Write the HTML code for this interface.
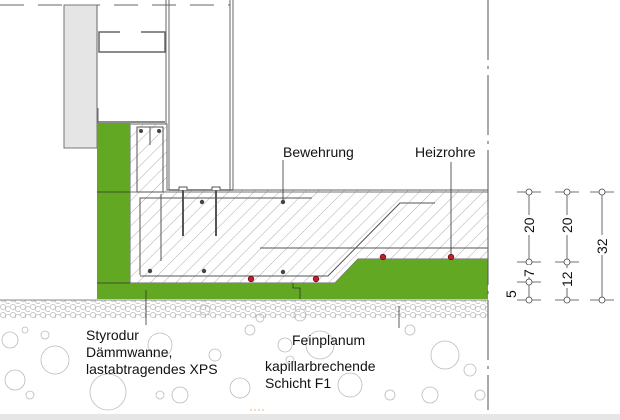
<!DOCTYPE html>
<html><head><meta charset="utf-8"><style>
html,body{margin:0;padding:0;background:#fff;width:620px;height:420px;overflow:hidden}
svg{display:block}
text{font-family:"Liberation Sans",sans-serif;font-size:14px;fill:#111}
</style></head><body>
<svg width="620" height="420" viewBox="0 0 620 420" xmlns="http://www.w3.org/2000/svg">
<defs>
<pattern id="hatch" width="9" height="9" patternUnits="userSpaceOnUse" patternTransform="rotate(45)">
<line x1="0" y1="0" x2="0" y2="9" stroke="#999" stroke-width="0.8"/>
</pattern>
<pattern id="dense" width="10" height="8" patternUnits="userSpaceOnUse">
<circle cx="3" cy="3" r="2.6" fill="none" stroke="#aaa" stroke-width="0.6"/>
<circle cx="8" cy="5" r="2.6" fill="none" stroke="#aaa" stroke-width="0.6"/>
</pattern>
</defs>
<line x1="0" y1="5" x2="230" y2="5" stroke="#666" stroke-dasharray="24,14"/>
<rect x="64" y="5" width="33" height="143" fill="#e5e5e5" stroke="#777" stroke-width="1"/>
<line x1="97" y1="5" x2="97" y2="108" stroke="#666"/>
<line x1="98" y1="108" x2="98" y2="123" stroke="#666"/>
<line x1="98" y1="122" x2="165" y2="122" stroke="#666" stroke-width="1.5"/>
<line x1="166" y1="0" x2="166" y2="190" stroke="#666"/>
<line x1="169" y1="0" x2="169" y2="190" stroke="#666"/>
<line x1="230" y1="0" x2="230" y2="190" stroke="#666"/>
<line x1="233" y1="0" x2="233" y2="190" stroke="#666"/>
<rect x="99" y="32" width="66" height="20" fill="none" stroke="#666" stroke-width="1.5"/>
<line x1="120" y1="32" x2="141" y2="32" stroke="#fff" stroke-width="3"/>
<path d="M130 124 H167 V190 H488 V259 H358 L335 283 H130 Z" fill="#fff"/>
<path d="M130 124 H167 V190 H488 V259 H358 L335 283 H130 Z" fill="url(#hatch)" stroke="#666" stroke-width="1"/>
<line x1="169" y1="190" x2="233" y2="190" stroke="#666" stroke-width="1.5"/>
<line x1="130" y1="192" x2="488" y2="192" stroke="#777"/>
<path d="M97 123 H130 V283 H335 L358 259 H488 V299 H97 Z" fill="#62a823"/>
<line x1="97" y1="192" x2="130" y2="192" stroke="#333" stroke-width="0.8"/>
<line x1="97" y1="283" x2="130" y2="283" stroke="#333" stroke-width="0.8"/>
<path d="M293 283 V288 H300 V299" fill="none" stroke="#333" stroke-width="0.8"/>
<g fill="none" stroke="#555" stroke-width="1">
<rect x="137" y="127" width="26" height="65"/>
<line x1="150" y1="127" x2="150" y2="145"/>
<path d="M140 275 V198 H312"/>
<path d="M140 276 H328 L400 203 H435"/>
<line x1="260" y1="248" x2="488" y2="248"/>
<line x1="161" y1="194" x2="161" y2="261"/>
<line x1="183" y1="190" x2="183" y2="236" stroke-width="2"/>
<line x1="216" y1="190" x2="216" y2="236" stroke-width="2"/>
</g>
<path d="M179 190 v-3 h8 v3 M212 190 v-3 h8 v3" fill="#fff" stroke="#555"/>
<g fill="#444">
<circle cx="141" cy="131" r="2"/><circle cx="159" cy="131" r="2"/>
<circle cx="202" cy="202" r="2.2"/><circle cx="283" cy="202" r="2.2"/>
<circle cx="150" cy="271" r="2.2"/><circle cx="204" cy="271" r="2.2"/><circle cx="283" cy="272" r="2.2"/>
</g>
<g fill="#c0202a" stroke="#600" stroke-width="0.6">
<circle cx="251" cy="279" r="2.8"/><circle cx="316" cy="279" r="2.8"/>
<circle cx="383" cy="257" r="2.8"/><circle cx="451" cy="257" r="2.8"/>
</g>
<rect x="0" y="300" width="488" height="18" fill="url(#dense)"/>
<line x1="0" y1="300" x2="488" y2="300" stroke="#888"/>
<g fill="none" stroke="#bbb" stroke-width="0.8">
<circle cx="10" cy="340" r="8"/><circle cx="25" cy="330" r="3"/><circle cx="45" cy="335" r="4"/>
<circle cx="15" cy="380" r="10"/><circle cx="30" cy="395" r="4"/><circle cx="55" cy="360" r="14"/>
<circle cx="108" cy="392" r="18"/><circle cx="160" cy="395" r="4"/><circle cx="215" cy="355" r="6"/>
<circle cx="205" cy="310" r="5"/><circle cx="250" cy="330" r="5"/><circle cx="260" cy="318" r="4"/>
<circle cx="240" cy="388" r="10"/><circle cx="285" cy="345" r="7"/><circle cx="290" cy="360" r="4"/>
<circle cx="300" cy="315" r="6"/><circle cx="320" cy="345" r="14"/><circle cx="350" cy="385" r="12"/>
<circle cx="390" cy="395" r="5"/><circle cx="410" cy="330" r="5"/><circle cx="445" cy="355" r="14"/>
<circle cx="470" cy="370" r="6"/><circle cx="480" cy="395" r="5"/><circle cx="430" cy="395" r="8"/>
<circle cx="160" cy="345" r="12"/><circle cx="180" cy="395" r="8"/>
</g>
<line x1="488" y1="0" x2="488" y2="410" stroke="#555" stroke-dasharray="60,6,3,6"/>
<g stroke="#333" stroke-width="0.8">
<line x1="283" y1="160" x2="283" y2="200"/>
<line x1="451" y1="162" x2="451" y2="254"/>
<line x1="146" y1="290" x2="146" y2="325"/>
<line x1="399" y1="306" x2="399" y2="328"/>
</g>
<text x="283" y="157">Bewehrung</text>
<text x="415" y="157">Heizrohre</text>
<text x="86" y="340">Styrodur</text>
<text x="86" y="357">Dämmwanne,</text>
<text x="86" y="374">lastabtragendes XPS</text>
<text x="292" y="345">Feinplanum</text>
<text x="265" y="371">kapillarbrechende</text>
<text x="265" y="388">Schicht F1</text>
<g stroke="#444" stroke-width="0.8" fill="#fff">
<line x1="529" y1="192" x2="529" y2="300"/>
<line x1="567" y1="192" x2="567" y2="300"/>
<line x1="602" y1="192" x2="602" y2="300"/>
<line x1="517" y1="192" x2="541" y2="192"/><line x1="555" y1="192" x2="579" y2="192"/><line x1="590" y1="192" x2="614" y2="192"/>
<line x1="517" y1="262" x2="541" y2="262"/><line x1="555" y1="262" x2="579" y2="262"/>
<line x1="517" y1="282" x2="541" y2="282"/>
<line x1="517" y1="300" x2="541" y2="300"/><line x1="555" y1="300" x2="579" y2="300"/><line x1="590" y1="300" x2="614" y2="300"/>
<circle cx="529" cy="192" r="3"/><circle cx="567" cy="192" r="3"/><circle cx="602" cy="192" r="3"/>
<circle cx="529" cy="262" r="3"/><circle cx="567" cy="262" r="3"/>
<circle cx="529" cy="282" r="3"/>
<circle cx="529" cy="300" r="3"/><circle cx="567" cy="300" r="3"/><circle cx="602" cy="300" r="3"/>
</g>
<g>
<rect x="522" y="215" width="14" height="20" fill="#fff"/><text transform="translate(534,233) rotate(-90)">20</text>
<rect x="522" y="265" width="14" height="12" fill="#fff"/><text transform="translate(534,277) rotate(-90)">7</text>
<text transform="translate(516,298) rotate(-90)">5</text>
<rect x="560" y="215" width="14" height="20" fill="#fff"/><text transform="translate(572,233) rotate(-90)">20</text>
<rect x="560" y="268" width="14" height="20" fill="#fff"/><text transform="translate(572,287) rotate(-90)">12</text>
<rect x="595" y="235" width="14" height="20" fill="#fff"/><text transform="translate(607,254) rotate(-90)">32</text>
</g>
<line x1="250" y1="410" x2="265" y2="410" stroke="#f0b080" stroke-dasharray="2,2"/>
<rect x="0" y="414" width="620" height="6" fill="#e6e6e6"/>
</svg>
</body></html>
